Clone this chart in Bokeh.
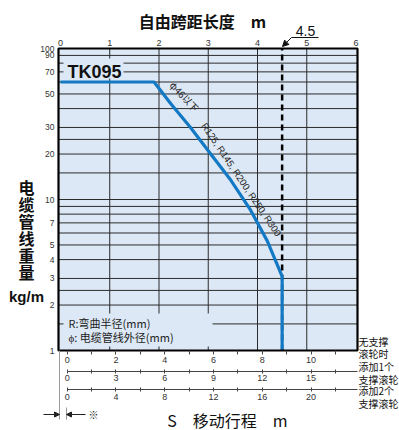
import math
from bokeh.plotting import figure
from bokeh.models import (Range1d, LinearAxis, LogAxis, FixedTicker, Label,
                          Arrow, NormalHead, NumeralTickFormatter)
from bokeh.embed import file_html
from bokeh.resources import INLINE

# ---------------- data ----------------
span_m = [0, 1.9, 2.24, 2.64, 3.05, 3.46, 3.86, 4.2, 4.5, 4.5]
weight_kg = [60, 60, 43, 30, 20, 13.4, 8.5, 5.3, 3.1, 1]
max_span = 4.5
weight_range = [1, 100]
top_ticks = [0, 1, 2, 3, 4, 5, 6]
y_ticks = [1, 2, 3, 4, 5, 7, 10, 20, 30, 50, 70, 90, 100]
y_grid = [1.5, 2, 2.5, 3, 4, 5, 6, 7, 8, 9, 10, 15, 20, 25, 30, 40, 50, 60, 70, 80, 90]
x_grid = [1, 2, 3, 4, 5]
stroke_major = [[0, 2, 4, 6, 8, 10], [0, 3, 6, 9, 12, 15], [0, 4, 8, 12, 16, 20]]
stroke_minor = [[1, 3, 5, 7, 9, 11], [1.5, 4.5, 7.5, 10.5, 13.5, 16.5], [2, 6, 10, 14, 18, 22]]
stroke_factor = [1, 1.5, 2]
row_labels = [("无支撑", "滚轮时"), ("添加1个", "支撑滚轮"), ("添加2个", "支撑滚轮")]
model_name = "TK095"
note_phi = "φ46以下"
note_r = "R125, R145, R200, R250, R300"
legend_lines = ["R:弯曲半径(mm)", "ϕ: 电缆管线外径(mm)"]
top_title = "自由跨距长度\u3000m"
bottom_title = "S\u3000移动行程\u3000m"
y_title_chars = list("电缆管线重量")
y_unit = "kg/m"

# ---------------- layout ----------------
W, H = 399, 430
FL, FR, FT, FB = 58, 357, 48, 350      # chart box edges in canvas px
X0, X1 = -0.04, 6.03                   # span range of the chart box
S_ZERO, S_UNIT = 0.137, 0.495          # stroke axis origin/unit in span metres

CJK = "Noto Sans CJK SC"
NUM = "Liberation Sans"
BLUE = "#1479c4"
BG = "#dce8f5"
GRID = "#2b2b2b"
INK = "#111"


def fx(px):
    return X0 + (px - FL) * (X1 - X0) / (FR - FL)


def fy(py):
    return 10 ** ((FB - py) / (FB - FT) * 2)


def lab(px, py, text, **kw):
    opts = dict(text_align="center", text_baseline="middle", text_color=INK)
    opts.update(kw)
    return Label(x=fx(px), y=fy(py), text=text, **opts)


def arr(x0, y0, x1, y1, head=None, color=INK, width=1):
    return Arrow(end=head, x_start=fx(x0), y_start=fy(y0), x_end=fx(x1), y_end=fy(y1),
                 line_color=color, line_width=width)


p = figure(width=W, height=H, x_range=Range1d(fx(0), fx(W)), y_range=Range1d(fy(H), fy(0)),
           y_axis_type="log", x_axis_location=None, y_axis_location=None,
           output_backend="svg", toolbar_location=None, min_border=0)
p.outline_line_color = None
p.background_fill_color = "white"
p.border_fill_color = "white"
p.grid.visible = False

ylo, yhi = weight_range

# chart box background
p.quad(left=[X0], right=[X1], bottom=[ylo], top=[yhi], fill_color=BG, line_color=None)

# grid lines
p.segment(x0=x_grid, y0=[ylo] * len(x_grid), x1=x_grid, y1=[yhi] * len(x_grid),
          line_color=GRID, line_width=1)
p.segment(x0=[X0] * len(y_grid), y0=y_grid, x1=[X1] * len(y_grid), y1=y_grid,
          line_color=GRID, line_width=1)

# patches hiding the grid behind labels
p.quad(left=[fx(63), fx(63)], right=[fx(123), fx(212)], top=[fy(58), fy(313)],
       bottom=[fy(78), fy(346)], fill_color=BG, line_color=None)

# dashed max-span line and the weight curve
p.line([max_span, max_span], weight_range, line_color="black", line_width=2.5, line_dash="6 4")
p.line(span_m, weight_kg, line_color=BLUE, line_width=3.2)

# chart box outline
p.quad(left=[X0], right=[X1], bottom=[ylo], top=[yhi], fill_color=None,
       line_color="black", line_width=2.2)

# top axis (free span)
ta = LinearAxis(ticker=FixedTicker(ticks=top_ticks), fixed_location=yhi)
ta.major_tick_out = 0
ta.major_tick_in = 0
ta.minor_tick_out = 0
ta.minor_tick_in = 0
ta.axis_line_color = None
ta.major_label_text_font = NUM
ta.major_label_text_font_size = "9px"
ta.major_label_text_color = "#333"
ta.major_label_standoff = 3
p.add_layout(ta, "above")

# left axis (weight)
la = LogAxis(ticker=FixedTicker(ticks=y_ticks), formatter=NumeralTickFormatter(format="0"),
             fixed_location=X0)
la.major_tick_out = 0
la.major_tick_in = 0
la.minor_tick_out = 0
la.minor_tick_in = 0
la.axis_line_color = None
la.major_label_text_font = NUM
la.major_label_text_font_size = "8.5px"
la.major_label_text_color = "#333"
la.major_label_standoff = 4
p.add_layout(la, "left")

# bottom stroke axes
axis_rows = [FB, 370.7, 389]
for i in range(3):
    f = stroke_factor[i]
    name = "s%d" % i
    p.extra_x_ranges[name] = Range1d((fx(0) - S_ZERO) / S_UNIT * f, (fx(W) - S_ZERO) / S_UNIT * f)
    ax = LinearAxis(x_range_name=name, fixed_location=fy(axis_rows[i]),
                    ticker=FixedTicker(ticks=stroke_major[i], minor_ticks=stroke_minor[i]))
    ax.major_label_text_font = NUM
    ax.major_label_text_font_size = "9px"
    ax.major_label_text_color = "#333"
    ax.major_tick_line_color = "#444"
    ax.minor_tick_line_color = "#444"
    if i == 0:
        ax.axis_line_color = None
        ax.major_tick_out = 4
        ax.minor_tick_out = 4
        ax.major_tick_in = 0
        ax.minor_tick_in = 0
        ax.major_label_standoff = 2
    else:
        ax.axis_line_color = "#444"
        ax.axis_line_width = 1
        ax.bounds = (0, (X1 - S_ZERO) / S_UNIT * f)
        ax.major_tick_out = 2
        ax.minor_tick_out = 2
        ax.major_tick_in = 2
        ax.minor_tick_in = 2
        ax.major_label_standoff = 2
    p.add_layout(ax, "below")

# texts inside chart box
p.add_layout(lab(94, 71, model_name, text_font=NUM, text_font_style="bold",
                 text_font_size="18px"))
p.add_layout(lab(184, 96, note_phi, text_font=CJK, text_font_size="9.5px",
                 angle=-math.radians(47), text_color="#222"))
p.add_layout(lab(241, 179, note_r, text_font=NUM, text_font_size="9.5px",
                 angle=-math.radians(56), text_color="#222"))
for txt, py in zip(legend_lines, [322, 336]):
    p.add_layout(lab(68, py, txt, text_font=CJK, text_font_size="11px", text_align="left",
                     text_color="#222"))

# titles
p.add_layout(lab(202, 20, top_title, text_font=CJK, text_font_style="bold",
                 text_font_size="16px"))
p.add_layout(lab(227, 419, bottom_title, text_font=CJK, text_font_size="16px"))
for k, ch in enumerate(y_title_chars):
    p.add_layout(lab(26, 186 + 17 * k, ch, text_font=CJK, text_font_style="bold",
                     text_font_size="16px"))
p.add_layout(lab(26, 296, y_unit, text_font=NUM, text_font_style="bold", text_font_size="15px"))

# 4.5 marker
p.add_layout(lab(305, 30, str(max_span), text_font=NUM, text_font_size="14px"))
p.add_layout(arr(291, 37, 318, 37))
p.add_layout(arr(291, 37, 282, 46, NormalHead(size=6, fill_color=INK, line_color=INK)))

# row labels at right
row_y = [(341, 353), (366, 379), (390, 403)]
for (a, b), (ya, yb) in zip(row_labels, row_y):
    for t, yy in ((a, ya), (b, yb)):
        p.add_layout(lab(358, yy, t, text_font=CJK, text_font_size="10px", text_align="left"))

# offset marker at bottom-left
p.add_layout(arr(59, 350, 59, 419, color="#999"))
p.add_layout(arr(66, 407, 66, 419, color="#999"))
p.add_layout(arr(43, 414, 59, 414, NormalHead(size=5, fill_color="#222", line_color="#222"),
                 color="#222"))
p.add_layout(arr(85, 414, 66, 414, NormalHead(size=5, fill_color="#222", line_color="#222"),
                 color="#222"))
p.add_layout(lab(93, 414, "※", text_font=CJK, text_font_size="10px", text_color="#222"))

open("out.html", "w").write(file_html(p, INLINE))
